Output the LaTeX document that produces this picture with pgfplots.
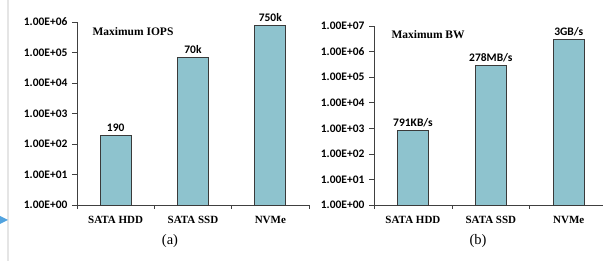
\documentclass[border=0pt]{standalone}
\usepackage{pgfplots}
\pgfplotsset{compat=1.18}
\usepackage{fontspec}
\setmainfont{Liberation Serif}
\newfontfamily\calib{Carlito}
\definecolor{barfill}{HTML}{8EC3CE}
\definecolor{baredge}{HTML}{3A3A3A}
\definecolor{axcol}{HTML}{404040}
\pgfplotsset{
  mybar/.style={
    scale only axis, bar width=31pt,
    axis x line*=bottom, axis y line*=left,
    axis line style={axcol, line width=0.8pt, -},
    tick style={axcol, line width=0.6pt},
    tick align=outside, major tick length=5pt, minor tick length=4pt,
    xmin=-0.5, enlarge x limits=false, enlarge y limits=false,
    xtick={0,1,2}, xticklabels={SATA HDD, SATA SSD, NVMe},
    major x tick style={draw=none},
    minor xtick={-0.5,0.5,1.5,2.5},
    yminorticks=false,
    ymin=1,
    clip=false,
    xticklabel style={font=\bfseries\fontsize{11}{13}\selectfont, yshift=-2.5pt},
    yticklabel style={font=\calib\bfseries\fontsize{11.5}{13}\selectfont, xshift=-1pt},
    nodes near coords, point meta=explicit symbolic,
    nodes near coords style={font=\calib\bfseries\fontsize{11.5}{13}\selectfont, text=black, anchor=south},
  }
}
\begin{document}
\begin{tikzpicture}[x=1pt,y=1pt]
% slide decoration
\fill[gray!20] (7pt,0pt) rectangle (9pt,261pt);
\fill[cyan!70!blue!70] (0pt,37pt) -- (8pt,41pt) -- (0pt,45pt) -- cycle;

\begin{axis}[ymode=log, ybar, mybar, at={(77pt,56pt)}, anchor=south west,
  width=232pt, height=183pt, xmax=2.5, ymax=1e6,
  ytick={1,10,100,1000,10000,100000,1000000},
  yticklabels={1.00E+00,1.00E+01,1.00E+02,1.00E+03,1.00E+04,1.00E+05,1.00E+06}]
\addplot[fill=barfill, draw=baredge, line width=0.8pt] coordinates {(0,190)[190] (1,70000)[70k] (2,750000)[750k]};
\node[anchor=west, font=\bfseries\fontsize{11.5}{13}\selectfont] at (rel axis cs:0.052,0.945) {Maximum IOPS};
\end{axis}

\begin{axis}[ymode=log, ybar, mybar, at={(374pt,56pt)}, anchor=south west,
  width=229pt, height=179pt, xmax=2.44, ymax=1e7,
  ytick={1,10,100,1000,10000,100000,1000000,10000000},
  yticklabels={1.00E+00,1.00E+01,1.00E+02,1.00E+03,1.00E+04,1.00E+05,1.00E+06,1.00E+07}]
\addplot[fill=barfill, draw=baredge, line width=0.8pt] coordinates {(0,791)[791KB/s] (1,278000)[278MB/s] (2,3000000)[3GB/s]};
\node[anchor=west, font=\bfseries\fontsize{11.5}{13}\selectfont] at (rel axis cs:0.061,0.95) {Maximum BW};
\end{axis}

\node[font=\fontsize{14.5}{16}\selectfont] at (170pt,20pt) {(a)};
\node[font=\fontsize{14.5}{16}\selectfont] at (478pt,20pt) {(b)};

\pgfresetboundingbox
\path[use as bounding box] (0pt,0pt) rectangle (603pt,261pt);
\end{tikzpicture}
\end{document}
